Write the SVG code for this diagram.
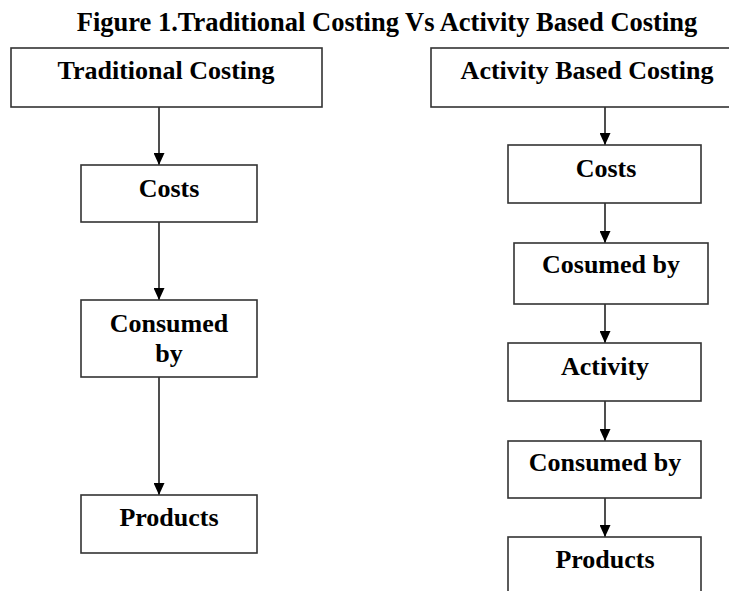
<svg xmlns="http://www.w3.org/2000/svg" width="729" height="591" viewBox="0 0 729 591">
<style>
.box{fill:#fff;stroke:#333;stroke-width:1.6}
.t{font-family:"Liberation Serif","Times New Roman",serif;font-weight:bold;font-size:26px;fill:#000;text-anchor:middle}
.title{font-size:26.5px}
.c{stroke:#222;stroke-width:1.6;fill:none;marker-end:url(#ah)}
</style>
<defs>
<marker id="ah" viewBox="0 0 12 11" refX="12" refY="5.5" markerWidth="12" markerHeight="11" markerUnits="userSpaceOnUse" orient="auto">
<path d="M0,0 L12,5.5 L0,11 Z" fill="#000"/>
</marker>
</defs>
<rect width="729" height="591" fill="#fff"/>
<text class="t title" x="387" y="31">Figure 1.Traditional Costing Vs Activity Based Costing</text>

<g id="connectors">
<line class="c" x1="159" y1="107" x2="159" y2="165"/>
<line class="c" x1="159" y1="222" x2="159" y2="300"/>
<line class="c" x1="159" y1="377" x2="159" y2="495"/>
<line class="c" x1="605" y1="107" x2="605" y2="145"/>
<line class="c" x1="605" y1="203" x2="605" y2="243"/>
<line class="c" x1="605" y1="300" x2="605" y2="343"/>
<line class="c" x1="605" y1="401" x2="605" y2="441"/>
<line class="c" x1="605" y1="498" x2="605" y2="537"/>
</g>

<g id="trad">
<rect class="box" x="11" y="48" width="311" height="59"/>
<text class="t" x="166" y="79">Traditional Costing</text>
</g>
<g id="trad-costs">
<rect class="box" x="81" y="165" width="176" height="57"/>
<text class="t" x="169" y="197">Costs</text>
</g>
<g id="trad-consumed">
<rect class="box" x="81" y="300" width="176" height="77"/>
<text class="t" x="169" y="332">Consumed</text>
<text class="t" x="169" y="362">by</text>
</g>
<g id="trad-products">
<rect class="box" x="81" y="495" width="176" height="58"/>
<text class="t" x="169" y="526">Products</text>
</g>

<g id="abc">
<rect class="box" x="431" y="48" width="320" height="59"/>
<text class="t" x="587" y="79">Activity Based Costing</text>
</g>
<g id="abc-costs">
<rect class="box" x="508" y="145" width="193" height="58"/>
<text class="t" x="606" y="177">Costs</text>
</g>
<g id="abc-cosumed">
<rect class="box" x="514" y="243" width="194" height="61"/>
<text class="t" x="611" y="273">Cosumed by</text>
</g>
<g id="abc-activity">
<rect class="box" x="508" y="343" width="193" height="58"/>
<text class="t" x="605" y="375">Activity</text>
</g>
<g id="abc-consumed">
<rect class="box" x="508" y="441" width="193" height="57"/>
<text class="t" x="605" y="471">Consumed by</text>
</g>
<g id="abc-products">
<rect class="box" x="508" y="537" width="193" height="70"/>
<text class="t" x="605" y="568">Products</text>
</g>
</svg>
